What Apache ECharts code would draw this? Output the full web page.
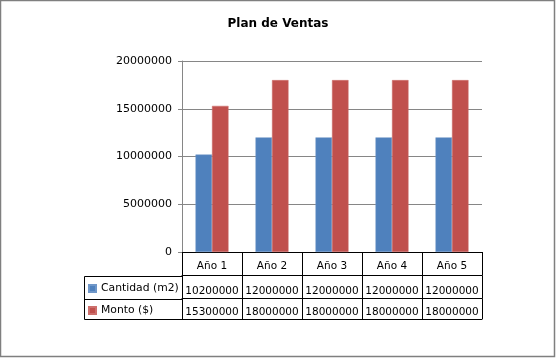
<!DOCTYPE html>
<html>
<head>
<meta charset="utf-8">
<script src="https://cdn.jsdelivr.net/npm/echarts@6/dist/echarts.min.js"></script>
<style>
html,body{margin:0;padding:0;background:#fff;}
#chart{width:556px;height:359px;}
</style>
</head>
<body>
<div id="chart"></div>
<script>
// ---- data ----
const title = 'Plan de Ventas';
const categories = ['Año 1', 'Año 2', 'Año 3', 'Año 4', 'Año 5'];
const seriesNames = ['Cantidad (m2)', 'Monto ($)'];
const cantidad = [10200000, 12000000, 12000000, 12000000, 12000000];
const monto = [15300000, 18000000, 18000000, 18000000, 18000000];
const yMin = 0, yMax = 20000000, yInterval = 5000000;

// ---- layout ----
const W = 556, H = 359;
const gridLeft = 182, gridRightX = 482, gridTop = 61, gridBottomY = 252;
const rowH = [23.5, 23, 20.5];
const tableLeft = 84;
const colors = ['#4F81BD', '#C0504D'];
const FONT = 'DejaVu Sans';
const tFont = 10.5;

const row1Y = gridBottomY + rowH[0];
const row2Y = row1Y + rowH[1];
const row3Y = row2Y + rowH[2];

const chart = echarts.init(document.getElementById('chart'), null, {renderer: 'canvas'});

function tableAxis(offset, data, tickLen, showLabel, margin) {
  return {
    type: 'category',
    gridIndex: 0,
    position: 'bottom',
    offset: offset,
    data: data,
    boundaryGap: true,
    axisLine: {show: true, lineStyle: {color: '#000', width: 1}},
    axisTick: {show: tickLen > 0, length: tickLen, interval: 0, alignWithLabel: false, lineStyle: {color: '#000', width: 1}},
    axisLabel: {show: showLabel, interval: 0, margin: margin, color: '#000', fontFamily: FONT, fontSize: tFont},
    splitLine: {show: false}
  };
}

const option = {
  animation: false,
  backgroundColor: '#fff',
  title: {
    text: title,
    left: 'center',
    top: 13,
    textStyle: {fontFamily: FONT, fontWeight: 'bold', fontSize: 12, color: '#000'}
  },
  legend: {
    orient: 'vertical',
    left: tableLeft + 4,
    top: row1Y + 6,
    padding: 0,
    data: seriesNames,
    icon: 'rect',
    itemWidth: 7,
    itemHeight: 7,
    itemGap: 8,
    selectedMode: false,
    textStyle: {fontFamily: FONT, fontSize: 10.8, color: '#000', lineHeight: 14}
  },
  grid: {
    left: gridLeft,
    right: W - gridRightX,
    top: gridTop,
    bottom: H - gridBottomY,
    containLabel: false
  },
  xAxis: [
    tableAxis(0, categories, rowH[0], true, 9),
    tableAxis(rowH[0], cantidad.map(String), rowH[1], true, 10),
    tableAxis(rowH[0] + rowH[1], monto.map(String), rowH[2], true, 8),
    tableAxis(rowH[0] + rowH[1] + rowH[2], categories, 0, false, 0)
  ],
  yAxis: {
    type: 'value',
    min: yMin,
    max: yMax,
    interval: yInterval,
    axisLine: {show: true, lineStyle: {color: '#868686', width: 1}},
    axisTick: {show: true, length: 4, lineStyle: {color: '#868686'}},
    axisLabel: {margin: 10, color: '#000', fontFamily: FONT, fontSize: 11, formatter: v => String(v)},
    splitLine: {show: true, lineStyle: {color: '#868686', width: 1}}
  },
  series: [
    {
      name: seriesNames[0],
      type: 'bar',
      xAxisIndex: 0,
      data: cantidad,
      itemStyle: {color: colors[0], borderColor: '#6f97c9', borderWidth: 0.5},
      barGap: '0%',
      barCategoryGap: '45%'
    },
    {
      name: seriesNames[1],
      type: 'bar',
      xAxisIndex: 0,
      data: monto,
      itemStyle: {color: colors[1], borderColor: '#cd6f6c', borderWidth: 0.5},
      barGap: '0%',
      barCategoryGap: '45%'
    }
  ],
  graphic: [
    {
      type: 'rect',
      shape: {x: 0.5, y: 0.5, width: W - 2, height: H - 3},
      style: {fill: null, stroke: '#7f7f7f', lineWidth: 1.5},
      silent: true
    },
    {
      type: 'rect',
      shape: {x: tableLeft + 0.5, y: Math.round(row1Y) + 0.5, width: gridLeft - tableLeft, height: Math.round(row3Y) - Math.round(row1Y)},
      style: {fill: null, stroke: '#000', lineWidth: 1},
      silent: true
    },
    {
      type: 'line',
      shape: {x1: tableLeft, y1: Math.round(row2Y) + 0.5, x2: gridLeft, y2: Math.round(row2Y) + 0.5},
      style: {stroke: '#000', lineWidth: 1},
      silent: true
    }
  ]
};
chart.setOption(option);
</script>
</body>
</html>
